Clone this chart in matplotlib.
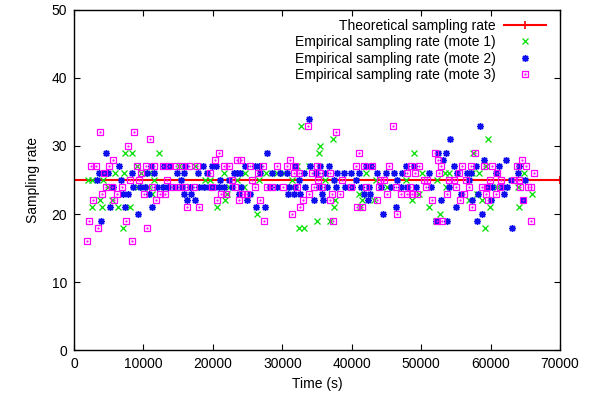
import matplotlib
matplotlib.use("Agg")
import matplotlib.pyplot as plt
from matplotlib.legend_handler import HandlerTuple

# ---------------------------------------------------------------
#   Sampling rate per mote vs. time
# ---------------------------------------------------------------

theory_time = [0, 70000]
theory_rate = [25, 25]

# mote 1 (green x)
mote1_time = [
    32760,
    37280, 59640,
    35360,
    7360, 8320, 12170, 35260, 48970, 57480,
    9040, 15060, 17460, 32130, 33810, 59310,
    5920, 7260, 9670, 10820, 21550, 24680, 27660, 29240, 30210, 42090, 50170, 53440, 54010, 57380, 58340, 64840,
    2070, 2640, 4230, 11450, 18900, 19620, 23470, 26600, 31410, 36220, 43440, 47770, 52340,
    4950, 9280, 10730, 13130, 19140, 22270, 24500, 31200, 45120, 53530, 60990, 63880,
    11210, 22030, 41030, 49690, 58100, 65900,
    3750, 5440, 21790, 37570, 41510, 43200, 48730, 56900, 58820,
    2550, 4090, 6400, 8080, 20590, 37430, 41200, 51130, 59880, 64120,
    26360, 52670,
    35020, 36800, 52100,
    7120, 32370, 33090, 59210,
]
mote1_rate = [
    33,
    31, 31,
    30,
    29, 29, 29, 29, 29, 29,
    27, 27, 27, 27, 27, 27,
    26, 26, 26, 26, 26, 26, 26, 26, 26, 26, 26, 26, 26, 26, 26, 26,
    25, 25, 25, 25, 25, 25, 25, 25, 25, 25, 25, 25, 25,
    24, 24, 24, 24, 24, 24, 24, 24, 24, 24, 24, 24,
    23, 23, 23, 23, 23, 23,
    22, 22, 22, 22, 22, 22, 22, 22, 22,
    21, 21, 21, 21, 21, 21, 21, 21, 21, 21,
    20, 20,
    19, 19, 19,
    18, 18, 18, 18,
]

# mote 2 (blue asterisk)
mote2_time = [
    33910,
    58490,
    54110,
    4620, 27800, 52480, 53530,
    53150, 59110, 62190,
    6490, 11110, 12890, 13850, 16020, 18520, 19870, 20440, 24680, 26120, 26600, 31790,
    34050, 35500, 36700, 41990, 42720, 47770, 48970, 54740, 57860, 61230, 64020,
    3610, 4380, 4950, 8320, 10490, 11590, 14810, 15900, 17840, 19140, 22990, 23470, 23950,
    26840, 28520, 29730, 30690, 33090, 34880, 36220, 37910, 38870, 39830, 41030, 43680,
    44880, 46080, 47290, 51130, 55220, 56660, 57140, 60750, 63880,
    3270, 6780, 15440, 21070, 22270, 32470, 37430, 40550, 46560, 56900, 62910, 64980,
    5680, 8560, 9520, 10240, 11930, 12750, 13520, 14570, 15540, 16740, 17940, 18660, 19380,
    20110, 20830, 21550, 22750, 24100, 28280, 29240, 30930, 31890, 33330, 35260, 36460,
    37670, 39000, 40070, 41270, 42480, 44160, 45600, 47050, 48010, 49210, 51370, 54010,
    59550, 60270, 61710, 62400,
    7120, 7840, 10730, 15780, 16880, 23710, 25400, 30830, 31700, 32610, 35740, 41800,
    42600, 55700, 58250, 61950,
    16260, 17460, 24920, 34540, 35840, 42300, 52810, 57380, 60100, 64690,
    5190, 7360, 11300, 26210, 27460, 46320, 55070,
    9190, 44500, 58820,
    3900, 52190, 53770, 58100,
    63150,
]
mote2_rate = [
    34,
    33,
    31,
    29, 29, 29, 29,
    28, 28, 28,
    27, 27, 27, 27, 27, 27, 27, 27, 27, 27, 27, 27,
    27, 27, 27, 27, 27, 27, 27, 27, 27, 27, 27,
    26, 26, 26, 26, 26, 26, 26, 26, 26, 26, 26, 26, 26,
    26, 26, 26, 26, 26, 26, 26, 26, 26, 26, 26, 26,
    26, 26, 26, 26, 26, 26, 26, 26, 26,
    25, 25, 25, 25, 25, 25, 25, 25, 25, 25, 25, 25,
    24, 24, 24, 24, 24, 24, 24, 24, 24, 24, 24, 24, 24,
    24, 24, 24, 24, 24, 24, 24, 24, 24, 24, 24, 24,
    24, 24, 24, 24, 24, 24, 24, 24, 24, 24, 24, 24,
    24, 24, 24, 24,
    23, 23, 23, 23, 23, 23, 23, 23, 23, 23, 23, 23,
    23, 23, 23, 23,
    22, 22, 22, 22, 22, 22, 22, 22, 22, 22,
    21, 21, 21, 21, 21, 21, 21,
    20, 20, 20,
    19, 19, 19, 19,
    18,
]

# mote 3 (magenta squares)
mote3_time = [
    33670, 45990,
    3750, 8700, 37670,
    10900,
    7740,
    20920, 41030, 51950, 57770,
    5680, 20350, 23470, 24100, 31170, 52480, 64500,
    2450, 3170, 5000, 9040, 10340, 11590, 12750, 13610, 14670, 15540, 16500, 17700,
    21550, 22270, 25400, 27220, 29240, 30690, 31890, 35020, 40550, 41750, 42960, 45360,
    48490, 49690, 52810, 55940, 57140, 59060, 60270, 63780, 65080,
    4380, 9670, 19620, 26450, 31650, 32370, 34300, 35500, 36940, 48010, 49110, 52580,
    55460, 60990, 66280,
    8080, 9380, 13370, 22750, 25640, 35160, 38630, 44020, 44640, 50410, 50890, 54010,
    54740, 56420, 59880, 61470, 63390, 64120,
    4620, 5440, 6880, 11210, 14090, 15060, 16020, 17220, 19870, 23230, 26120, 27800,
    28520, 30060, 32130, 34540, 35740, 39830, 42090, 43920, 46320, 48340, 50650, 54980,
    56900, 58820, 59550, 61300, 64300, 65320, 65800,
    3990, 6160, 10010, 12410, 13130, 21210, 21890, 24190, 24920, 33910, 37090, 38240,
    45020, 47050, 47900, 48730, 49450, 53770, 56180, 59310, 60750,
    2790, 5820, 11780, 20590, 23710, 26840, 32950, 36900, 43700, 51620, 55550, 59640, 64600,
    16260, 18040, 32610, 40790, 41510, 57380,
    31410, 46500,
    2160, 7460, 27420, 37280, 52330, 53050, 65890,
    3410, 10490,
    1920, 8320,
]
mote3_rate = [
    33, 33,
    32, 32, 32,
    31,
    30,
    29, 29, 29, 29,
    28, 28, 28, 28, 28, 28, 28,
    27, 27, 27, 27, 27, 27, 27, 27, 27, 27, 27, 27,
    27, 27, 27, 27, 27, 27, 27, 27, 27, 27, 27, 27,
    27, 27, 27, 27, 27, 27, 27, 27, 27,
    26, 26, 26, 26, 26, 26, 26, 26, 26, 26, 26, 26,
    26, 26, 26,
    25, 25, 25, 25, 25, 25, 25, 25, 25, 25, 25, 25,
    25, 25, 25, 25, 25, 25,
    24, 24, 24, 24, 24, 24, 24, 24, 24, 24, 24, 24,
    24, 24, 24, 24, 24, 24, 24, 24, 24, 24, 24, 24,
    24, 24, 24, 24, 24, 24, 24,
    23, 23, 23, 23, 23, 23, 23, 23, 23, 23, 23, 23,
    23, 23, 23, 23, 23, 23, 23, 23, 23,
    22, 22, 22, 22, 22, 22, 22, 22, 22, 22, 22, 22, 22,
    21, 21, 21, 21, 21, 21,
    20, 20,
    19, 19, 19, 19, 19, 19, 19,
    18, 18,
    16, 16,
]

plt.rcParams['font.family'] = ['Liberation Sans', 'DejaVu Sans']
plt.rcParams['font.size'] = 10

fig = plt.figure(figsize=(5.94, 3.95), dpi=100)
ax = fig.add_axes([0.1246, 0.1139, 0.8182, 0.8608])

red, green, blue, magenta = '#ff0000', '#00e000', '#1010ee', '#ff00ff'

th, = ax.plot(theory_time, theory_rate, color=red, lw=1.5, marker='+',
              ms=6, mew=1.2, label='Theoretical sampling rate')
m1, = ax.plot(mote1_time, mote1_rate, ls='none', marker='x', ms=4,
              mew=0.9, color=green, label='Empirical sampling rate (mote 1)')
m2, = ax.plot(mote2_time, mote2_rate, ls='none', marker=(8, 2, 0), ms=5,
              mew=1.0, color=blue, label='Empirical sampling rate (mote 2)')
m3, = ax.plot(mote3_time, mote3_rate, ls='none', marker='s', ms=4.3,
              mew=0.9, mfc='none', color=magenta, label='Empirical sampling rate (mote 3)')
m3d, = ax.plot(mote3_time, mote3_rate, ls='none', marker='.', ms=1.2,
               color=magenta)

ax.set_xlim(0, 70000)
ax.set_ylim(0, 50)
ax.set_xticks(range(0, 70001, 10000))
ax.set_yticks(range(0, 51, 10))
ax.tick_params(direction='in', length=4.5, width=0.8, top=True, right=True,
               labelsize=10, pad=5)
for s in ax.spines.values():
    s.set_linewidth(1.0)

ax.set_xlabel('Time (s)', labelpad=4)
ax.set_ylabel('Sampling rate', labelpad=8)

ax.legend([th, m1, m2, (m3, m3d)],
          ['Theoretical sampling rate', 'Empirical sampling rate (mote 1)',
           'Empirical sampling rate (mote 2)', 'Empirical sampling rate (mote 3)'],
          handler_map={tuple: HandlerTuple(ndivide=1, pad=0)},
          loc='upper right', bbox_to_anchor=(0.993, 1.006), frameon=False,
          markerfirst=False, handlelength=3.0, handletextpad=0.6,
          labelspacing=0.16, borderpad=0.3, fontsize=10)

fig.savefig('out.png', dpi=100)
